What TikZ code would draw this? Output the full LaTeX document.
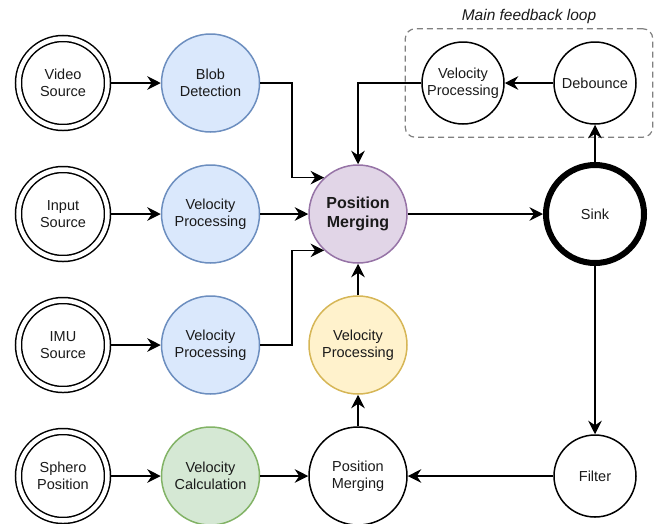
\documentclass[tikz,border=0pt]{standalone}
\usepackage{fontspec}
\setmainfont{Liberation Sans}
\usepackage{tikz}
\usetikzlibrary{calc, positioning, arrows.meta, fit}
\definecolor{txt}{HTML}{1A1A1A}
\definecolor{blueF}{HTML}{DAE8FC}
\definecolor{blueD}{HTML}{6C8EBF}
\definecolor{greenF}{HTML}{D5E8D4}
\definecolor{greenD}{HTML}{82B366}
\definecolor{purpleF}{HTML}{E1D5E7}
\definecolor{purpleD}{HTML}{9673A6}
\definecolor{yellowF}{HTML}{FFF2CC}
\definecolor{yellowD}{HTML}{D6B656}
\definecolor{loopgray}{HTML}{808080}

\begin{document}
\begin{tikzpicture}[
  x=1pt, y=-1pt,
  font=\fontsize{14.5}{17}\selectfont,
  circ/.style={circle, draw=black, line width=1.5pt, minimum size=98pt, inner sep=0pt, align=center, text=txt},
  src/.style={circ, double, double distance=4.5pt, minimum size=89pt, outer sep=3.75pt},
  blueproc/.style={circ, fill=blueF, draw=blueD},
  greenproc/.style={circ, fill=greenF, draw=greenD},
  purpleproc/.style={circ, fill=purpleF, draw=purpleD, font=\fontsize{16}{19}\selectfont\bfseries},
  yellowproc/.style={circ, fill=yellowF, draw=yellowD},
  small/.style={circ, minimum size=82pt},
  sinkc/.style={circ, line width=6pt},
  arr/.style={draw=black, line width=1.6pt, -{Stealth[length=13.5pt, width=13.5pt, inset=4.5pt]}},
  loopbox/.style={draw=loopgray, line width=1.2pt, dash pattern=on 6pt off 4pt, rounded corners=10pt, inner xsep=16pt, inner ysep=12.5pt},
  looplab/.style={font=\fontsize{15.5}{18}\selectfont\itshape, text=txt}
]
\useasboundingbox (0,0) rectangle (655,523);

\def\dx{147.5}
\def\dy{131}
\coordinate (C) at (63,83);

\node[src] (S1) at ($(C)+(0,0)$)     {Video\\Source};
\node[src] (S2) at ($(C)+(0,\dy)$)   {Input\\Source};
\node[src] (S3) at ($(C)+(0,2*\dy)$) {IMU\\Source};
\node[src] (S4) at ($(C)+(0,3*\dy)$) {Sphero\\Position};

\node[blueproc]  (P1) at ($(C)+(\dx,0)$)     {Blob\\Detection};
\node[blueproc]  (P2) at ($(C)+(\dx,\dy)$)   {Velocity\\Processing};
\node[blueproc]  (P3) at ($(C)+(\dx,2*\dy)$) {Velocity\\Processing};
\node[greenproc] (P4) at ($(C)+(\dx,3*\dy)$) {Velocity\\Calculation};

\node[purpleproc] (M1) at ($(C)+(2*\dx,\dy)$)   {Position\\Merging};
\node[yellowproc] (Y)  at ($(C)+(2*\dx,2*\dy)$) {Velocity\\Processing};
\node[circ]       (M2) at ($(C)+(2*\dx,3*\dy)$) {Position\\Merging};

\node[sinkc] (K) at ($(C)+(532,\dy)$)   {Sink};
\node[small] (D) at ($(C)+(532,0)$)     {Debounce};
\node[small] (V) at ($(C)+(400,0)$)     {Velocity\\Processing};
\node[small] (F) at ($(C)+(532,3*\dy)$) {Filter};

\node[loopbox, fit=(V)(D)] (box) {};
\node[looplab, above=1pt of box] (boxlab) {Main feedback loop};

\foreach \i in {1,2,3,4} {
  \draw[arr] (S\i) -- (P\i);
}
\draw[arr] (P1.east) -| ([xshift=-32pt]M1.133) -- (M1.133);
\draw[arr] (P2) -- (M1);
\draw[arr] (P3.east) -| ([xshift=-32pt]M1.227) -- (M1.227);
\draw[arr] (P4) -- (M2);
\draw[arr] (M2) -- (Y);
\draw[arr] (Y) -- (M1);
\draw[arr] (M1) -- (K);
\draw[arr] (K) -- (D);
\draw[arr] (D) -- (V);
\draw[arr] (V.west) -| (M1.north);
\draw[arr] (K) -- (F);
\draw[arr] (F) -- (M2);

\end{tikzpicture}
\end{document}
